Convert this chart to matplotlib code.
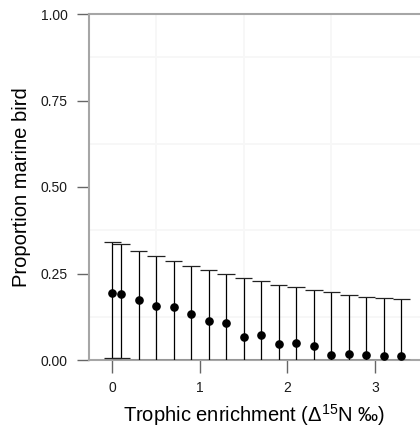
import matplotlib
matplotlib.use("Agg")
import matplotlib.pyplot as plt
import numpy as np

plt.rcParams['font.family'] = ['Liberation Sans', 'DejaVu Sans']
plt.rcParams['mathtext.fontset'] = 'custom'
plt.rcParams['mathtext.rm'] = 'Liberation Sans'
plt.rcParams['mathtext.it'] = 'Liberation Sans'
plt.rcParams['mathtext.bf'] = 'Liberation Sans:bold'

enrichment = [0.0, 0.1, 0.3, 0.5, 0.7, 0.9, 1.1, 1.3, 1.5, 1.7, 1.9, 2.1, 2.3, 2.5, 2.7, 2.9, 3.1, 3.3]
prop_mean = [0.195, 0.191, 0.173, 0.157, 0.153, 0.134, 0.113, 0.107, 0.067, 0.071,
             0.045, 0.050, 0.040, 0.015, 0.016, 0.014, 0.012, 0.012]
prop_upper = [0.341, 0.335, 0.316, 0.301, 0.286, 0.273, 0.261, 0.249, 0.238, 0.228,
              0.217, 0.211, 0.203, 0.196, 0.189, 0.182, 0.179, 0.175]
prop_lower = [0.005, 0.005, 0.0, 0.0, 0.0, 0.0, 0.0, 0.0, 0.0, 0.0,
              0.0, 0.0, 0.0, 0.0, 0.0, 0.0, 0.0, 0.0]
x_ticks = [0, 1, 2, 3]
y_ticks = [0.0, 0.25, 0.5, 0.75, 1.0]
y_ticklabels = ["0.00", "0.25", "0.50", "0.75", "1.00"]

fig = plt.figure(figsize=(4.2, 4.34), dpi=100)
ax = fig.add_axes([88.5/420, 74/434, (420-88.5)/420, 346/434])

x = np.array(enrichment)
m = np.array(prop_mean)
lo = np.array(prop_lower)
hi = np.array(prop_upper)

cap_w = 0.1
ax.vlines(x, lo, hi, color='black', lw=0.9, zorder=3)
ax.hlines(hi, x - cap_w, x + cap_w, color='#222222', lw=0.9, zorder=3)
ax.hlines(lo, x - cap_w, x + cap_w, color='#222222', lw=0.9, zorder=3)
ax.plot(x, m, 'o', color='black', ms=5.2, zorder=4)

ax.set_xlim(-0.272, 3.513)
ax.set_ylim(0, 1)
ax.set_xticks(x_ticks)
ax.set_xticklabels([str(t) for t in x_ticks])
ax.set_yticks(y_ticks)
ax.set_yticklabels(y_ticklabels)

# very light minor grid
ax.set_xticks([0.5, 1.5, 2.5], minor=True)
ax.set_yticks([0.125, 0.375, 0.625, 0.875], minor=True)
ax.grid(which='minor', color='#f7f7f7', lw=1.4, zorder=0)
ax.grid(which='major', visible=False)
ax.tick_params(which='minor', length=0)

ax.tick_params(which='major', length=9, width=1.0, color='#666666',
               labelsize=10, labelcolor='#1a1a1a', pad=6)
ax.tick_params(axis='x', which='major', pad=6)

for s in ['left', 'bottom', 'top']:
    ax.spines[s].set_color('#a6a6a6')
    ax.spines[s].set_linewidth(1.5)
ax.spines['right'].set_visible(False)

ax.set_xlabel(r'Trophic enrichment ($\mathrm{\Delta}^{15}$N ‰)', fontsize=14.5, labelpad=5)
ax.set_ylabel('Proportion marine bird', fontsize=14.5, labelpad=7)

fig.savefig('out.png', dpi=100)
